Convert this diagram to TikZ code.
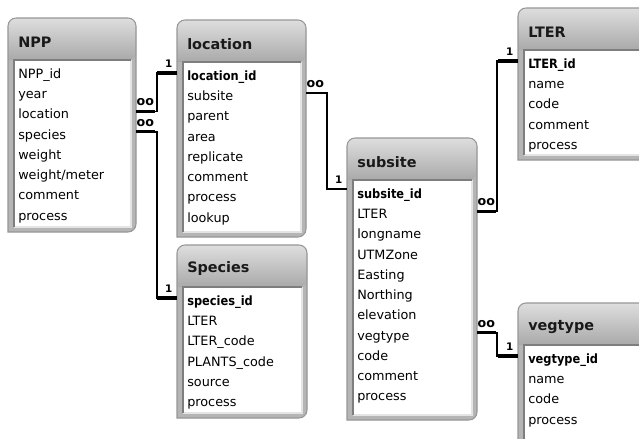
\documentclass[tikz,border=0pt]{standalone}
\usepackage{fontspec}
\setmainfont{DejaVu Sans}
\usetikzlibrary{calc,fit}
\definecolor{framegray}{HTML}{B5B5B5}
\definecolor{frameline}{HTML}{979797}
\definecolor{titletop}{HTML}{DEDEDE}
\definecolor{titlebot}{HTML}{A9A9A9}
\definecolor{innerdark}{HTML}{7E7E7E}
\definecolor{innerlight}{HTML}{E4E4E4}
\tikzset{
  rowtext/.style={font=\fontsize{9.6}{10}\selectfont, inner sep=0pt, text height=7pt, text depth=2pt, anchor=west, text=black},
  titletext/.style={font=\fontsize{10.8}{11}\selectfont\bfseries, inner sep=0pt, anchor=west, text=black!90},
  conn/.style={line width=1.3pt, black},
  connend/.style={line width=2.3pt, black},
  manylbl/.style={font=\fontsize{9.5}{9}\selectfont\bfseries, inner sep=0pt},
  onelbl/.style={font=\fontsize{7.8}{8}\selectfont\bfseries, inner sep=0pt},
}
\newcommand\keyfmt[1]{\scalebox{0.89}[1]{\bfseries #1}}
% #1 name, #2 x1, #3 y1, #4 x2, #5 y2, #6 title, #7 first row, #8 other rows
\newcommand\erdtable[8]{%
  \node[fit={(#2,#3) (#4,#5)}, inner sep=0pt] (#1) {};
  \fill[framegray] (#2,#5) [rounded corners=6pt] -- (#2,#3) -- (#4,#3) -- (#4,#5) [sharp corners] -- cycle;
  \shade[top color=titletop, bottom color=titlebot] (#2,{#3+42}) [rounded corners=6pt] -- (#2,#3) -- (#4,#3) -- (#4,{#3+42}) [sharp corners] -- cycle;
  \draw[frameline, line width=0.8pt] (#2,#5) [rounded corners=6pt] -- (#2,#3) -- (#4,#3) -- (#4,#5) [sharp corners] -- cycle;
  \fill[white] ({#2+6},{#3+42}) rectangle ({#4-5},{#5-5});
  \draw[innerlight, line width=0.8pt] ({#2+6},{#5-5}) -- ({#4-5},{#5-5}) -- ({#4-5},{#3+42});
  \draw[innerdark, line width=0.8pt] ({#2+6},{#5-5}) -- ({#2+6},{#3+42}) -- ({#4-5},{#3+42});
  \node[titletext] (#1-t) at ({#2+10},{#3+24}) {#6};
  \node[rowtext] (#1-0) at ({#2+10},{#3+57}) {#7};
  \foreach \r [count=\i] in {#8} {
    \node[rowtext] (#1-\i) at ({#2+10},{#3+57+20.25*\i}) {\r};
  }
}
\begin{document}
\begin{tikzpicture}[x=0.75pt, y=-0.75pt]
\useasboundingbox (0,0) rectangle (639,439);
\clip (0,0) rectangle (639,439);
\fill[white] (0,0) rectangle (639,439);

\erdtable{npp}{8}{18}{136}{232}{NPP}{NPP\_id}{year,location,species,weight,weight/meter,comment,process}
\erdtable{loc}{177}{20}{306}{237}{location}{\keyfmt{location\_id}}{subsite,parent,area,replicate,comment,process,lookup}
\erdtable{spc}{177}{245}{307}{418}{Species}{\keyfmt{species\_id}}{LTER,LTER\_code,PLANTS\_code,source,process}
\erdtable{sub}{347}{138}{477}{420}{subsite}{\keyfmt{subsite\_id}}{LTER,longname,UTMZone,Easting,Northing,elevation,vegtype,code,comment,process}
\erdtable{lter}{518}{8}{662}{160}{LTER}{\keyfmt{LTER\_id}}{name,code,comment,process}
\erdtable{veg}{518}{303}{662}{470}{vegtype}{\keyfmt{vegtype\_id}}{name,code,process}

% connectors
\coordinate (c1a) at ($(npp.east |- npp-2)+(0,-4)$);
\coordinate (c1b) at ($(loc.west |- loc-0)+(0,-4)$);
\coordinate (c2a) at ($(npp.east |- npp-3)+(0,-4)$);
\coordinate (c2b) at ($(spc.west |- spc-0)+(0,-4)$);
\coordinate (c3a) at ($(loc.east |- loc-1)+(0,-4)$);
\coordinate (c3b) at ($(sub.west |- sub-0)+(0,-6)$);
\coordinate (c4a) at ($(sub.east |- sub-1)+(0,-4)$);
\coordinate (c4b) at ($(lter.west |- lter-0)+(0,-4)$);
\coordinate (c5a) at ($(sub.east |- sub-7)+(0,-4)$);
\coordinate (c5b) at ($(veg.west |- veg-0)+(0,-4)$);

\draw[conn] (c1a) -- ++(21,0) |- (c1b);
\draw[conn] (c2a) -- ++(21,0) |- (c2b);
\draw[conn] (c3a) -- ++(21,0) |- (c3b);
\draw[conn] (c4a) -- ++(20,0) |- (c4b);
\draw[conn] (c5a) -- ++(20,0) |- (c5b);

\draw[connend] (c1a) -- ++(19,0);
\draw[connend] (c1b) -- ++(-20,0);
\draw[connend] (c2a) -- ++(19,0);
\draw[connend] (c2b) -- ++(-20,0);
\draw[connend] (c4a) -- ++(19,0);
\draw[connend] (c4b) -- ++(-20,0);
\draw[connend] (c5a) -- ++(19,0);
\draw[connend] (c5b) -- ++(-20,0);

\node[manylbl] (m1) at ($(c1a)+(9,-9)$) {oo};
\node[manylbl] (m2) at ($(c2a)+(9,-9)$) {oo};
\node[manylbl] (m3) at ($(c3a)+(9,-9)$) {oo};
\node[manylbl] (m4) at ($(c4a)+(9,-9)$) {oo};
\node[manylbl] (m5) at ($(c5a)+(9,-9)$) {oo};
\node[onelbl] (o1) at ($(c1b)+(-8,-9)$) {1};
\node[onelbl] (o2) at ($(c2b)+(-8,-9)$) {1};
\node[onelbl] (o3) at ($(c3b)+(-8,-9)$) {1};
\node[onelbl] (o4) at ($(c4b)+(-8,-9)$) {1};
\node[onelbl] (o5) at ($(c5b)+(-8,-9)$) {1};
\end{tikzpicture}
\end{document}
